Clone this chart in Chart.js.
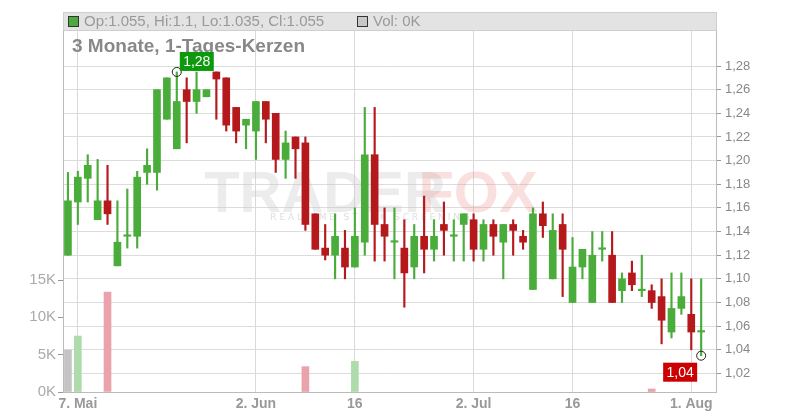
<!DOCTYPE html>
<html>
<head>
<meta charset="utf-8">
<script src="https://cdn.jsdelivr.net/npm/chart.js@4/dist/chart.umd.min.js"></script>
<style>
  body { margin: 0; background: #fff; }
  #wrap { width: 800px; height: 420px; }
</style>
</head>
<body>
<div id="wrap"><canvas id="kurs"></canvas></div>
<script>
// Tageskerzen, 3 Monate (letzter Eintrag leer = Abstand zum rechten Rand)
const tage = ["", "7. Mai", "", "", "", "", "", "", "", "", "", "", "", "", "", "", "", "", "", "2. Jun",
  "", "", "", "", "", "", "", "", "", "16", "", "", "", "", "", "", "", "", "", "", "", "2. Jul",
  "", "", "", "", "", "", "", "", "", "16", "", "", "", "", "", "", "", "", "", "", "", "1. Aug", "", ""];
const open  = [1.12,1.165,1.185,1.15,1.166,1.111,1.136,1.136,1.19,1.19,1.235,1.21,1.26,1.25,1.254,1.275,1.27,1.245,1.23,1.225,
  1.25,1.24,1.201,1.22,1.215,1.155,1.126,1.12,1.126,1.11,1.131,1.205,1.146,1.131,1.126,1.11,1.136,1.125,1.146,1.136,
  1.146,1.15,1.125,1.146,1.131,1.146,1.136,1.091,1.155,1.10,1.146,1.08,1.11,1.08,1.125,1.12,1.09,1.105,1.09,1.09,
  1.085,1.055,1.075,1.07,1.055];
const high  = [1.19,1.191,1.205,1.201,1.196,1.166,1.176,1.191,1.21,1.26,1.27,1.275,1.27,1.275,1.26,1.275,1.27,1.245,1.235,1.25,
  1.25,1.24,1.225,1.22,1.22,1.155,1.146,1.155,1.141,1.16,1.245,1.245,1.16,1.16,1.15,1.146,1.17,1.15,1.165,1.15,
  1.155,1.155,1.15,1.15,1.146,1.15,1.141,1.16,1.165,1.155,1.155,1.135,1.125,1.14,1.14,1.14,1.105,1.115,1.12,1.095,
  1.10,1.105,1.105,1.10,1.10];
const low   = [1.12,1.146,1.165,1.15,1.146,1.111,1.126,1.126,1.18,1.175,1.235,1.21,1.215,1.24,1.254,1.235,1.225,1.215,1.21,1.201,
  1.215,1.19,1.185,1.185,1.141,1.125,1.116,1.10,1.10,1.11,1.12,1.115,1.115,1.10,1.076,1.10,1.105,1.115,1.12,1.115,
  1.115,1.115,1.115,1.12,1.10,1.12,1.125,1.091,1.135,1.10,1.085,1.08,1.10,1.08,1.115,1.08,1.08,1.09,1.085,1.075,
  1.045,1.05,1.07,1.04,1.035];
const close = [1.166,1.186,1.196,1.166,1.155,1.131,1.136,1.186,1.196,1.26,1.27,1.25,1.25,1.26,1.26,1.269,1.23,1.225,1.235,1.25,
  1.235,1.201,1.215,1.21,1.146,1.125,1.12,1.136,1.11,1.136,1.205,1.146,1.136,1.131,1.105,1.136,1.125,1.136,1.141,1.136,
  1.155,1.125,1.146,1.136,1.146,1.141,1.131,1.155,1.145,1.141,1.125,1.11,1.125,1.12,1.125,1.08,1.10,1.095,1.09,1.08,
  1.065,1.075,1.085,1.055,1.055];
// Volumen in Stueck
const volumen = [5600,7500,0,0,13400,0,0,0,0,0,0,0,0,0,0,0,0,0,0,0,0,0,0,0,3400,0,0,0,0,4100,
  0,0,0,0,0,0,0,0,0,0,0,0,0,0,0,0,0,0,0,0,0,0,0,0,0,0,0,0,0,400,0,0,0,0,0];
const kursTicks = [1.02,1.04,1.06,1.08,1.10,1.12,1.14,1.16,1.18,1.20,1.22,1.24,1.26,1.28];
const volTicks = [0,5000,10000,15000];

const GRUEN = "#4aad3b", ROT = "#b5191c";
const farbe = open.map((o, i) => close[i] >= o ? GRUEN : ROT);
const volFarbe = volumen.map((v, i) => i === 0 ? "#c4c4c4" : (close[i] >= open[i] ? "#addcaa" : "#eaa3ab"));

// Kopfzeile, Wasserzeichen und Markierungen
const extras = {
  id: "extras",
  beforeDatasetsDraw(chart) {
    const c = chart.ctx;
    c.save();
    c.textAlign = "center";
    c.textBaseline = "middle";
    c.font = "bold 58px 'Liberation Sans'";
    c.fillStyle = "rgba(200,200,200,0.35)";
    c.fillText("TRADER", 325, 196);
    c.fillStyle = "rgba(240,150,150,0.3)";
    c.fillText("FOX", 478, 196);
    c.font = "9px 'DejaVu Sans'";
    c.fillStyle = "rgba(190,190,190,0.5)";
    c.fillText("R E A L T I M E   S T O C K   S C R E E N I N G", 370, 218);
    c.restore();
  },
  afterDraw(chart) {
    const c = chart.ctx, a = chart.chartArea;
    const x = chart.scales.x, y = chart.scales.y;
    c.save();
    c.fillStyle = "#e3e3e3";
    c.fillRect(a.left, a.top, a.right - a.left, 18);
    c.strokeStyle = "#cfcfcf";
    c.strokeRect(a.left + 0.5, a.top + 0.5, a.right - a.left, 18);
    c.fillStyle = GRUEN; c.strokeStyle = "#333";
    c.fillRect(68, 16, 10, 10); c.strokeRect(68.5, 16.5, 10, 10);
    c.fillStyle = "#c8c8c8";
    c.fillRect(357, 16, 10, 10); c.strokeRect(357.5, 16.5, 10, 10);
    c.fillStyle = "#999";
    c.font = "15px 'Liberation Sans'";
    c.textBaseline = "middle";
    c.fillText("Op:1.055, Hi:1.1, Lo:1.035, Cl:1.055", 84, 22);
    c.fillText("Vol: 0K", 373, 22);
    c.fillStyle = "#888";
    c.font = "bold 19px 'Liberation Sans'";
    c.fillText("3 Monate, 1-Tages-Kerzen", 72, 47);

    // Hoch- und Tiefpunkt
    const iH = high.indexOf(Math.max(...high));
    const iL = low.indexOf(Math.min(...low));
    const marke = (i, wert, text, bg, dx, dy) => {
      const px = x.getPixelForValue(i), py = y.getPixelForValue(wert);
      c.strokeStyle = "#222"; c.lineWidth = 1;
      c.beginPath(); c.arc(px, py, 4.5, 0, Math.PI * 2); c.stroke();
      c.fillStyle = bg;
      c.fillRect(px + dx, py + dy, 34, 19);
      c.fillStyle = "#fff";
      c.font = "14px 'Liberation Sans'";
      c.textAlign = "center";
      c.fillText(text, px + dx + 17, py + dy + 10);
    };
    marke(iH, high[iH], "1,28", "#0c9a0c", 3, -20);
    marke(iL, low[iL], "1,04", "#cc0000", -38, 7);
    c.restore();
  }
};

new Chart(document.getElementById("kurs"), {
  type: "bar",
  data: {
    labels: tage,
    datasets: [
      {
        data: volumen.map((v) => v || null), yAxisID: "vol", grouped: false,
        backgroundColor: volFarbe, barThickness: 7
      },
      {
        data: low.map((l, i) => [l, high[i]]), yAxisID: "y", grouped: false,
        backgroundColor: farbe, barThickness: 1.5
      },
      {
        data: open.map((o, i) => [o, close[i]]), yAxisID: "y", grouped: false,
        backgroundColor: farbe, barThickness: 7, minBarLength: 1.5
      }
    ]
  },
  options: {
    responsive: true,
    maintainAspectRatio: false,
    animation: false,
    layout: { padding: { top: 12, left: 0, right: 0, bottom: 0 } },
    plugins: { legend: { display: false }, tooltip: { enabled: false } },
    scales: {
      x: {
        offset: true,
        grid: {
          offset: false,
          color: (ctx) => ctx.tick && ctx.tick.label ? "#d9d9d9" : "transparent",
          drawTicks: false
        },
        border: { color: "#bbb" },
        ticks: {
          autoSkip: false, maxRotation: 0, padding: 4,
          color: "#999", font: { size: 14, weight: "bold", family: "Liberation Sans" }
        },
        afterFit: (s) => { s.height = 28; }
      },
      y: {
        position: "right",
        min: 1.0043, max: 1.3257,
        afterBuildTicks: (s) => { s.ticks = kursTicks.map((v) => ({ value: v })); },
        grid: { color: "#dcdcdc", tickLength: 5, tickColor: "#999" },
        border: { color: "#bbb" },
        ticks: {
          padding: 4, color: "#888", font: { size: 13, family: "Liberation Sans" },
          callback: (v) => v.toFixed(2).replace(".", ",")
        },
        afterFit: (s) => { s.width = 84; }
      },
      vol: {
        position: "left",
        min: 0, max: 50900,
        afterBuildTicks: (s) => { s.ticks = volTicks.map((v) => ({ value: v })); },
        grid: { drawOnChartArea: false, tickLength: 5, tickColor: "#999" },
        border: { color: "#bbb" },
        ticks: {
          padding: 2, color: "#aaa", font: { size: 15, family: "Liberation Sans" },
          callback: (v) => (v / 1000) + "K"
        },
        afterFit: (s) => { s.width = 63; }
      }
    }
  },
  plugins: [extras]
});
</script>
</body>
</html>
